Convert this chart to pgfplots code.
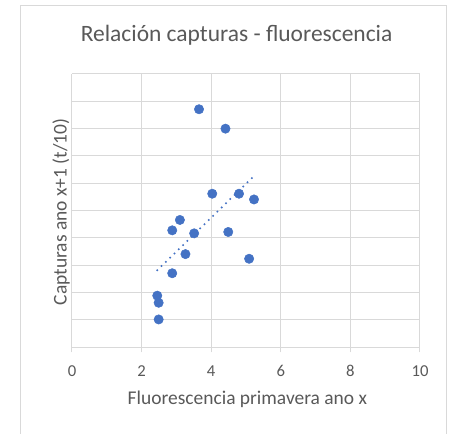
\documentclass[border=0pt]{standalone}
\usepackage{pgfplots}
\pgfplotsset{compat=1.18}
\usepackage{fontspec}
\setmainfont{Carlito}
\definecolor{txt}{HTML}{595959}
\definecolor{gridc}{HTML}{D9D9D9}
\definecolor{blu}{HTML}{4472C4}
\pgfplotstableread{
x y
3.65 8.71
4.41 8.00
4.03 5.62
4.80 5.62
5.23 5.41
3.10 4.66
2.88 4.28
3.51 4.17
4.49 4.22
3.26 3.41
5.09 3.24
2.88 2.71
2.45 1.89
2.49 1.63
2.49 1.02
}\datatable
\begin{document}
\begin{tikzpicture}
\useasboundingbox (0,0) rectangle (341.25pt,325.5pt);
\draw[gridc, line width=0.75pt] (15.75pt,-20pt) rectangle (335.25pt,321pt);
\begin{axis}[
  at={(54pt,65pt)}, anchor=south west,
  width=261pt, height=205pt, scale only axis,
  xmin=0, xmax=10, ymin=0, ymax=10,
  xtick={0,2,...,10}, ytick={0,1,...,10}, yticklabels={},
  grid=major, major grid style={gridc, line width=0.75pt},
  axis x line*=bottom, axis y line*=left,
  y axis line style={draw=none},
  x axis line style={gridc, line width=0.75pt, -},
  xtick align=outside, major tick length=3.75pt,
  xtick style={gridc, line width=0.75pt},
  ytick style={draw=none},
  /pgf/number format/assume math mode=true,
  xticklabel style={font=\fontsize{12.5}{14}\selectfont, text=txt, anchor=base, yshift=-18pt},
  title={Relación capturas - fluorescencia},
  title style={at={(axis description cs:0.473,1.088)}, anchor=base, font=\fontsize{17.6}{20}\selectfont, text=txt},
  xlabel={Fluorescencia primavera ano x},
  xlabel style={at={(axis description cs:0.504,-0.211)}, anchor=base, font=\fontsize{14.6}{17}\selectfont, text=txt},
  ylabel={Capturas ano x+1 (t/10)},
  ylabel style={at={(axis description cs:-0.0316,0.495)}, anchor=center, font=\fontsize{14.6}{17}\selectfont, text=txt},
]
\addplot[blu, line width=1.7pt, line cap=round, dash pattern=on 0pt off 4.5pt] coordinates {(2.45,2.82) (5.23,6.27)};
\addplot[only marks, mark=*, mark size=3.5pt, mark options={fill=blu, draw=blu}] table {\datatable};
\end{axis}
\end{tikzpicture}
\end{document}
